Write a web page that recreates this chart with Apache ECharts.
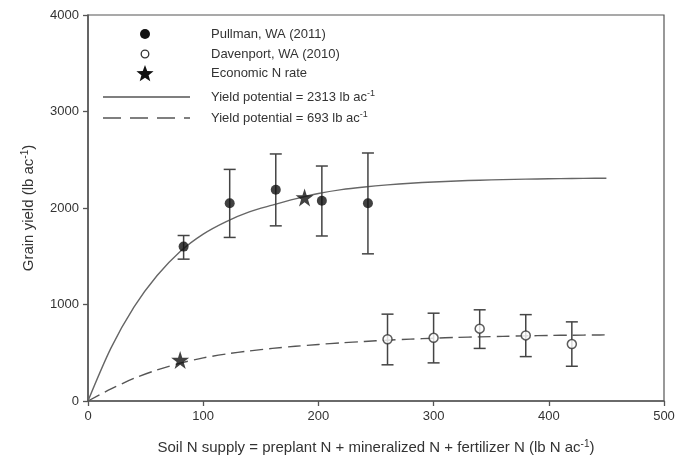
<!DOCTYPE html>
<html>
<head>
<meta charset="utf-8">
<script src="https://cdn.jsdelivr.net/npm/echarts@6/dist/echarts.min.js"></script>
<style>html,body{margin:0;padding:0;background:#fff;}#c{width:687px;height:463px;}</style>
</head>
<body>
<div id="c"></div>
<script>
// ---- data ----
const pullmanN = [83, 123, 163, 203, 243];
const pullmanYield = [1600, 2050, 2190, 2075, 2050];
const pullmanLow = [1470, 1695, 1815, 1710, 1525];
const pullmanHigh = [1715, 2400, 2560, 2435, 2570];

const davenportN = [260, 300, 340, 380, 420];
const davenportYield = [640, 655, 750, 680, 590];
const davenportLow = [375, 395, 545, 460, 360];
const davenportHigh = [900, 910, 945, 895, 820];

const econN = [188, 80];
const econYield = [2110, 425];

const curveHighN = [0, 20, 40, 60, 80, 100, 120, 140, 160, 180, 200, 220, 240, 260, 280, 300, 320, 340, 360, 380, 400, 420, 440, 450];
const curveHighY = [0, 550, 975, 1300, 1550, 1730, 1860, 1960, 2030, 2095, 2150, 2190, 2218, 2240, 2257, 2270, 2280, 2288, 2294, 2299, 2303, 2306, 2308, 2309];

const curveLowN = [0, 20, 40, 60, 80, 100, 120, 140, 160, 180, 200, 220, 240, 260, 280, 300, 320, 340, 360, 380, 400, 420, 440, 450];
const curveLowY = [0, 125, 235, 322, 392, 447, 487, 519, 545, 567, 586, 603, 617, 630, 641, 651, 659, 665, 670, 675, 679, 682, 684, 685];

const xTicks = [0, 100, 200, 300, 400, 500];
const yTicks = [0, 1000, 2000, 3000, 4000];

const legendLabels = ['Pullman, WA (2011)', 'Davenport, WA (2010)', 'Economic N rate',
  'Yield potential = 2313 lb ac', 'Yield potential = 693 lb ac'];

// ---- build ----
const zip = (a, b) => a.map((v, i) => [v, b[i]]);
const errData = (xs, lo, hi) => xs.map((v, i) => [v, lo[i], hi[i]]);
const FONT = '"Liberation Sans", Arial, sans-serif';
const INK = '#333';
const STAR = 'path://M50,0 L61.2,34.5 L97.6,34.5 L68.2,55.9 L79.4,90.5 L50,69.1 L20.6,90.5 L31.8,55.9 L2.4,34.5 L38.8,34.5 Z';

function errorBar(params, api) {
  const x = api.value(0);
  const p1 = api.coord([x, api.value(1)]);
  const p2 = api.coord([x, api.value(2)]);
  const w = 6;
  const st = { stroke: '#444', lineWidth: 1.5 };
  return {
    type: 'group',
    children: [
      { type: 'line', shape: { x1: p1[0], y1: p1[1], x2: p2[0], y2: p2[1] }, style: st },
      { type: 'line', shape: { x1: p1[0] - w, y1: p1[1], x2: p1[0] + w, y2: p1[1] }, style: st },
      { type: 'line', shape: { x1: p2[0] - w, y1: p2[1], x2: p2[0] + w, y2: p2[1] }, style: st }
    ]
  };
}

function starPoints(cx, cy, R) {
  const pts = [];
  for (let i = 0; i < 10; i++) {
    const r = i % 2 === 0 ? R : R * 0.42;
    const a = -Math.PI / 2 + i * Math.PI / 5;
    pts.push([cx + r * Math.cos(a), cy + r * Math.sin(a)]);
  }
  return pts;
}

const legX = 145, txtX = 211;
const legY = [34, 54, 73, 97, 118];
const supRich = { sup: { fontSize: 9, fontFamily: FONT, fill: INK, padding: [0, 0, 7, 0] } };

const graphic = [
  { type: 'circle', shape: { cx: legX, cy: legY[0], r: 5 }, style: { fill: '#111' } },
  { type: 'circle', shape: { cx: legX, cy: legY[1], r: 3.8 }, style: { fill: '#fff', stroke: '#333', lineWidth: 1.3 } },
  { type: 'polygon', shape: { points: starPoints(legX, legY[2] + 1, 9) }, style: { fill: '#111' } },
  { type: 'line', shape: { x1: 103, y1: legY[3], x2: 190, y2: legY[3] }, style: { stroke: '#555', lineWidth: 1.3 } },
  { type: 'line', shape: { x1: 103, y1: legY[4], x2: 190, y2: legY[4] }, style: { stroke: '#555', lineWidth: 1.3, lineDash: [18, 9] } }
];
legendLabels.forEach((t, i) => {
  graphic.push({
    type: 'text', x: txtX, y: legY[i],
    style: {
      text: i >= 3 ? t + '{sup|-1}' : t,
      rich: supRich,
      font: '13px ' + FONT, fill: INK, textVerticalAlign: 'middle', verticalAlign: 'middle'
    }
  });
});

const option = {
  animation: false,
  backgroundColor: '#fff',
  textStyle: { fontFamily: FONT },
  grid: { left: 88, right: 23, top: 15, bottom: 62, show: true, borderColor: '#555', borderWidth: 1.2 },
  xAxis: {
    type: 'value', min: xTicks[0], max: xTicks[xTicks.length - 1], interval: 100,
    name: 'Soil N supply = preplant N + mineralized N + fertilizer N (lb N ac{sup|-1})',
    nameLocation: 'middle', nameGap: 38,
    nameTextStyle: { fontSize: 15, color: INK, fontFamily: FONT,
      rich: { sup: { fontSize: 10, color: INK, padding: [0, 0, 8, 0], fontFamily: FONT } } },
    axisLine: { lineStyle: { color: '#555', width: 1.5 } },
    axisTick: { show: true, inside: false, length: 5, lineStyle: { color: '#555', width: 1.3 } },
    axisLabel: { fontSize: 13, color: INK, margin: 9, formatter: v => String(v) },
    splitLine: { show: false }
  },
  yAxis: {
    type: 'value', min: yTicks[0], max: yTicks[yTicks.length - 1], interval: 1000,
    name: 'Grain yield (lb ac{sup|-1})',
    nameLocation: 'middle', nameGap: 50,
    nameTextStyle: { fontSize: 15, color: INK, fontFamily: FONT,
      rich: { sup: { fontSize: 10, color: INK, padding: [0, 0, 8, 0], fontFamily: FONT } } },
    axisLine: { lineStyle: { color: '#555', width: 1.5 } },
    axisTick: { show: true, inside: false, length: 5, lineStyle: { color: '#555', width: 1.3 } },
    axisLabel: { fontSize: 13, color: INK, margin: 9, formatter: v => String(v) },
    splitLine: { show: false }
  },
  graphic: graphic,
  series: [
    { type: 'line', data: zip(curveHighN, curveHighY), smooth: 0.3, showSymbol: false,
      lineStyle: { color: '#666', width: 1.4 }, z: 1 },
    { type: 'line', data: zip(curveLowN, curveLowY), smooth: 0.3, showSymbol: false,
      lineStyle: { color: '#555', width: 1.4, type: [13, 6] }, z: 1 },
    { type: 'custom', renderItem: errorBar, data: errData(pullmanN, pullmanLow, pullmanHigh), z: 2 },
    { type: 'custom', renderItem: errorBar, data: errData(davenportN, davenportLow, davenportHigh), z: 2 },
    { type: 'scatter', data: zip(pullmanN, pullmanYield), symbol: 'circle', symbolSize: 10,
      itemStyle: { color: '#111' }, z: 3 },
    { type: 'scatter', data: zip(davenportN, davenportYield), symbol: 'circle', symbolSize: 9,
      itemStyle: { color: '#fff', borderColor: '#333', borderWidth: 1.5 }, z: 3 },
    { type: 'scatter', data: zip(econN, econYield), symbol: STAR, symbolSize: 18,
      itemStyle: { color: '#111' }, z: 4 }
  ]
};

const chart = echarts.init(document.getElementById('c'), null, { renderer: 'canvas' });
chart.setOption(option);
</script>
</body>
</html>
